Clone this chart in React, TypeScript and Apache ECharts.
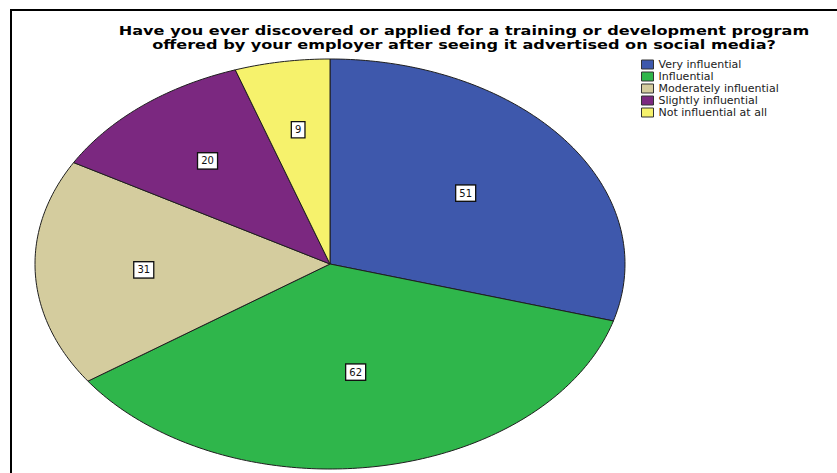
import React, { useEffect, useRef } from "react";
import * as echarts from "echarts";

const categories = [
  "Very influential",
  "Influential",
  "Moderately influential",
  "Slightly influential",
  "Not influential at all",
];
const counts = [51, 62, 31, 20, 9];
const colors = ["#3e58ac", "#2fb64b", "#d4cc9e", "#7b2880", "#f6f26c"];
const titleLines = [
  "Have you ever discovered or applied for a training or development program",
  "offered by your employer after seeing it advertised on social media?",
];

export default function App() {
  const ref = useRef<HTMLDivElement>(null);
  useEffect(() => {
    if (!ref.current) return;
    const chart = echarts.init(ref.current, null, { renderer: "svg" });
    const total = counts.reduce((a, b) => a + b, 0);
    const cx = 330, cy = 264, rx = 295, ry = 205;
    const makeRender = (idx: number) => (params: any, api: any) => {
      let before = 0;
      for (let i = 0; i < idx; i++) before += counts[i];
      const v = api.value(0);
      const a0 = (before / total) * Math.PI * 2;
      const a1 = ((before + v) / total) * Math.PI * 2;
      const pts: number[][] = [[cx, cy]];
      const steps = Math.max(4, Math.ceil(((a1 - a0) * 180) / Math.PI));
      for (let s = 0; s <= steps; s++) {
        const a = a0 + ((a1 - a0) * s) / steps;
        pts.push([cx + rx * Math.sin(a), cy - ry * Math.cos(a)]);
      }
      const th = a1 - a0;
      const frac = (4 * Math.sin(th / 2)) / (3 * th);
      const am = (a0 + a1) / 2;
      const lx = cx + rx * frac * Math.sin(am);
      const ly = cy - ry * frac * Math.cos(am);
      return {
        type: "group",
        children: [
          {
            type: "polygon",
            shape: { points: pts },
            style: { fill: colors[idx], stroke: "#1f1f1f", lineWidth: 1 },
          },
          {
            type: "text",
            x: lx,
            y: ly,
            style: {
              text: String(v),
              fontSize: 10,
              fontFamily: "DejaVu Sans",
              fill: "#111",
              align: "center",
              verticalAlign: "middle",
              backgroundColor: "#ffffff",
              borderColor: "#111",
              borderWidth: 1.3,
              padding: [3, 3, 2, 3],
            },
          },
        ],
      };
    };
    chart.setOption({
      animation: false,
      backgroundColor: "#ffffff",
      legend: {
        orient: "vertical",
        left: 641,
        top: 59,
        padding: 0,
        itemWidth: 12,
        itemHeight: 9,
        itemGap: 1,
        icon: "rect",
        data: categories,
        itemStyle: { borderColor: "#333", borderWidth: 1 },
        textStyle: {
          fontSize: 11,
          lineHeight: 11,
          fontFamily: "DejaVu Sans",
          color: "#222",
        },
      },
      graphic: [
        {
          type: "rect",
          shape: { x: 11, y: 10, width: 900, height: 600 },
          style: { fill: "none", stroke: "#000", lineWidth: 2 },
          silent: true,
        },
        {
          type: "text",
          x: 464,
          y: 37,
          scaleX: 1.24,
          style: {
            text: titleLines.join("\n"),
            fontSize: 13,
            fontWeight: "bold",
            fontFamily: "DejaVu Sans",
            fill: "#000",
            align: "center",
            verticalAlign: "middle",
            lineHeight: 14,
          },
        },
      ],
      series: categories.map((name, i) => ({
        type: "custom",
        name,
        coordinateSystem: "none",
        itemStyle: { color: colors[i], borderColor: "#333", borderWidth: 1 },
        data: [[counts[i]]],
        renderItem: makeRender(i),
      })),
    });
    return () => chart.dispose();
  }, []);
  return (
    <div
      ref={ref}
      style={{ position: "fixed", left: 0, top: 0, width: 837, height: 473 }}
    />
  );
}
